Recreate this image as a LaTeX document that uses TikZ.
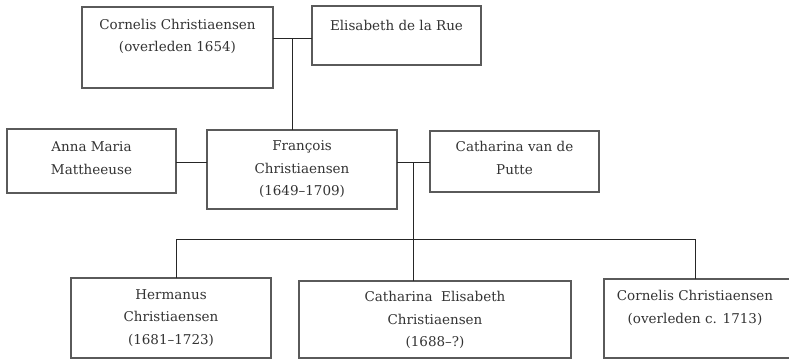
\documentclass[tikz,border=0pt]{standalone}
\usepackage{fontspec}
\setmainfont{DejaVu Serif}
\definecolor{boxline}{HTML}{5A5A5A}
\definecolor{txt}{HTML}{333333}
\tikzset{
  person/.style={draw=boxline, line width=1.1pt, rectangle, inner sep=0pt},
  ptext/.style={text=txt, align=center, font=\fontsize{13.5}{22.5}\selectfont, inner sep=0pt},
  link/.style={draw=black!85, line width=0.9pt},
}
\begin{document}
\begin{tikzpicture}[x=1pt,y=-1pt]
\useasboundingbox (0,0) rectangle (789,360);
% boxes
\draw[person] (82,7) rectangle (273,88);
\draw[person] (312,6) rectangle (481,65);
\draw[person] (7,129) rectangle (176,193);
\draw[person] (207,130) rectangle (397,209);
\draw[person] (430,131) rectangle (599,192);
\draw[person] (71,278) rectangle (271,358);
\draw[person] (299,281) rectangle (571,358);
\draw[person] (604,279) rectangle (795,358);
% named anchors
\coordinate (c1r) at (273,38);
\coordinate (e1l) at (312,38);
\coordinate (m1) at (292,38);
\coordinate (ftop) at (292,130);
\coordinate (ar) at (176,162);
\coordinate (fl) at (207,162);
\coordinate (fr) at (397,162);
\coordinate (cl) at (430,162);
\coordinate (m2) at (413,162);
\coordinate (bar) at (413,239);
\coordinate (barl) at (176,239);
\coordinate (barr) at (695,239);
\coordinate (htop) at (176,278);
\coordinate (cetop) at (413,281);
\coordinate (cctop) at (695,279);
% texts
\node[ptext] (t1) at (177.5,36.5) {Cornelis Christiaensen\\(overleden 1654)};
\node[ptext] (t2) at (396.5,25) {Elisabeth de la Rue};
\node[ptext] (t3) at (91.5,158) {Anna Maria\\Mattheeuse};
\node[ptext] (t4) at (302,169.5) {François\\Christiaensen\\(1649–1709)};
\node[ptext] (t5) at (514.5,158) {Catharina van de\\Putte};
\node[ptext] (t6) at (171,318) {Hermanus\\Christiaensen\\(1681–1723)};
\node[ptext] (t7) at (435,320) {Catharina~~Elisabeth\\Christiaensen\\(1688–?)};
\node[ptext] (t8) at (695,308) {Cornelis Christiaensen\\(overleden c. 1713)};
% connectors
\draw[link] (c1r) -- (e1l);
\draw[link] (m1) -- (ftop);
\draw[link] (ar) -- (fl);
\draw[link] (fr) -- (cl);
\draw[link] (m2) -- (cetop);
\draw[link] (barl) -- (barr);
\draw[link] (barl) -- (htop);
\draw[link] (barr) -- (cctop);
\end{tikzpicture}
\end{document}
